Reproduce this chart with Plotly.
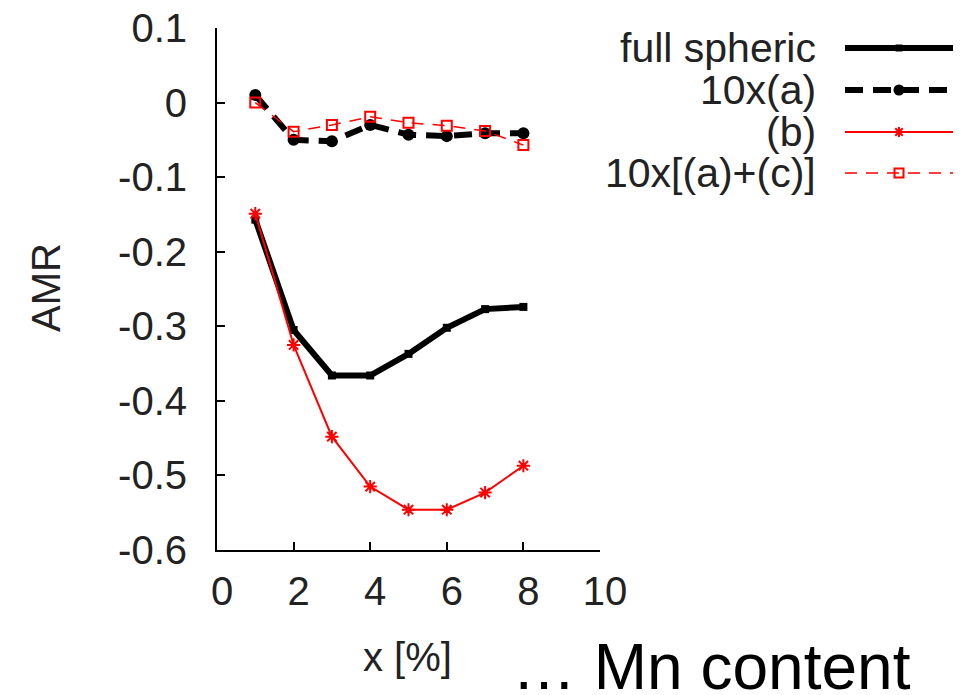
import plotly.graph_objects as go

# ---- data ----
x_mn = [1, 2, 3, 4, 5, 6, 7, 8]
full_spheric = [-0.157, -0.305, -0.366, -0.366, -0.337, -0.302, -0.277, -0.274]
ten_a = [0.010, -0.050, -0.052, -0.030, -0.043, -0.045, -0.041, -0.041]
b_vals = [-0.149, -0.325, -0.448, -0.515, -0.546, -0.546, -0.523, -0.487]
ten_ac = [0.000, -0.039, -0.030, -0.019, -0.027, -0.031, -0.038, -0.057]

series_names = ["full spheric", "10x(a)", "(b)", "10x[(a)+(c)]"]
y_tickvals = [0.1, 0, -0.1, -0.2, -0.3, -0.4, -0.5, -0.6]
y_ticktext = ["0.1", "0", "-0.1", "-0.2", "-0.3", "-0.4", "-0.5", "-0.6"]
x_tickvals = [0, 2, 4, 6, 8, 10]
x_ticktext = ["0", "2", "4", "6", "8", "10"]

W, H = 974, 695
FONT = "Liberation Sans, Arial, Helvetica, sans-serif"
TXT = "#222222"

FX0, FX1, FY0, FY1 = 217, 600, 28, 550
XR = (0, 10)
YR = (-0.6, 0.1)

def px(v):
    return v / W

def py(v):
    return 1 - v / H

styles = [
    dict(line=dict(color="black", width=6), marker=dict(symbol="square", size=8, color="black")),
    dict(line=dict(color="black", width=6, dash="18px,10px"), marker=dict(symbol="circle", size=12, color="black")),
    dict(line=dict(color="red", width=2), marker=dict(symbol="asterisk-open", size=11, color="red", line=dict(color="red", width=2))),
    dict(line=dict(color="red", width=1.5, dash="12px,9px"), marker=dict(symbol="square-open", size=10, color="red", line=dict(color="red", width=2))),
]
series = [full_spheric, ten_a, b_vals, ten_ac]

fig = go.Figure()
for name, ys, st in zip(series_names, series, styles):
    fig.add_trace(go.Scatter(x=x_mn, y=ys, name=name, mode="lines+markers",
                             line=st["line"], marker=st["marker"], showlegend=False,
                             cliponaxis=False))

# ---- manual gnuplot-style key: right-aligned text, sample to the right ----
leg_rows = [48, 90, 132, 173]
leg_x0, leg_x1 = 845, 953
leg_xm = (leg_x0 + leg_x1) / 2


def key_marker(symbol, cx, cy, size, color):
    h = size / 2
    if symbol == "square":
        return [dict(type="rect", xref="paper", yref="paper", x0=px(cx - h), x1=px(cx + h),
                     y0=py(cy + h), y1=py(cy - h), fillcolor=color, line=dict(width=0))]
    if symbol == "circle":
        return [dict(type="circle", xref="paper", yref="paper", x0=px(cx - h), x1=px(cx + h),
                     y0=py(cy + h), y1=py(cy - h), fillcolor=color, line=dict(width=0))]
    if symbol == "square-open":
        return [dict(type="rect", xref="paper", yref="paper", x0=px(cx - h), x1=px(cx + h),
                     y0=py(cy + h), y1=py(cy - h), fillcolor="rgba(0,0,0,0)",
                     line=dict(color=color, width=2))]
    # asterisk
    d = h * 0.75
    pts = [((cx - h, cy), (cx + h, cy)), ((cx, cy - h), (cx, cy + h)),
           ((cx - d, cy - d), (cx + d, cy + d)), ((cx - d, cy + d), (cx + d, cy - d))]
    path = " ".join(f"M{px(a[0]):.5f},{py(a[1]):.5f} L{px(b[0]):.5f},{py(b[1]):.5f}" for a, b in pts)
    return [dict(type="path", xref="paper", yref="paper", path=path, line=dict(color=color, width=2))]


for name, row, st in zip(series_names, leg_rows, styles):
    fig.add_shape(type="line", xref="paper", yref="paper",
                  x0=px(leg_x0), x1=px(leg_x1), y0=py(row), y1=py(row),
                  line=dict(color=st["line"]["color"], width=st["line"]["width"],
                            dash=st["line"].get("dash", "solid")))
    sym = st["marker"]["symbol"].replace("asterisk-open", "asterisk")
    for shp in key_marker(sym, leg_xm, row, st["marker"]["size"] - 1, st["marker"]["color"]):
        fig.add_shape(**shp)
    fig.add_annotation(x=px(818), y=py(row), xref="paper", yref="paper", text=name,
                       showarrow=False, xanchor="right", yanchor="middle",
                       font=dict(family=FONT, size=41, color=TXT))

fig.add_annotation(x=px(46), y=py(288), xref="paper", yref="paper", text="AMR",
                   textangle=-90, showarrow=False, xanchor="center", yanchor="middle",
                   font=dict(family=FONT, size=40, color=TXT))
fig.add_annotation(x=px(407), y=py(657), xref="paper", yref="paper", text="x [%]",
                   showarrow=False, xanchor="center", yanchor="middle",
                   font=dict(family=FONT, size=40, color=TXT))
fig.add_annotation(x=px(510), y=py(667), xref="paper", yref="paper", text="… Mn content",
                   showarrow=False, xanchor="left", yanchor="middle",
                   font=dict(family=FONT, size=64, color="black"))

fig.update_layout(
    width=W, height=H,
    margin=dict(l=0, r=0, t=0, b=0, pad=0, autoexpand=False),
    paper_bgcolor="white", plot_bgcolor="white",
    showlegend=False,
    xaxis=dict(domain=[px(FX0), px(FX1)], range=list(XR), tickvals=x_tickvals, ticktext=x_ticktext,
               ticks="inside", ticklen=8, tickwidth=2, tickcolor="black",
               showline=True, linecolor="black", linewidth=2, mirror=False,
               showgrid=False, zeroline=False, ticklabelstandoff=5, ticklabelshift=5,
               tickfont=dict(family=FONT, size=40, color=TXT), automargin=False),
    yaxis=dict(domain=[py(FY1), py(FY0)], range=list(YR), tickvals=y_tickvals, ticktext=y_ticktext,
               ticks="inside", ticklen=8, tickwidth=2, tickcolor="black",
               showline=True, linecolor="black", linewidth=2, mirror=False,
               showgrid=False, zeroline=False, ticklabelstandoff=20,
               tickfont=dict(family=FONT, size=40, color=TXT), automargin=False),
)

fig.write_html("out.html", config={"displayModeBar": False})
